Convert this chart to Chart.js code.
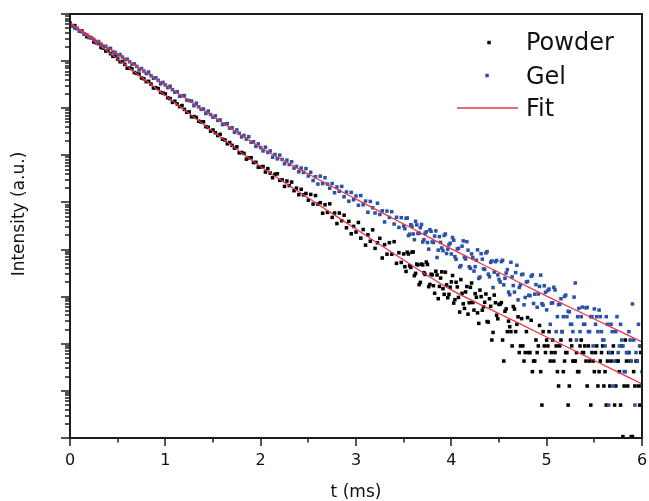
<!DOCTYPE html>
<html><head><meta charset="utf-8">
<script src="https://cdn.jsdelivr.net/npm/chart.js@4/dist/chart.umd.min.js"></script>
<style>html,body{margin:0;padding:0;background:#fff;}#wrap{width:649px;height:501px;}</style>
</head><body><div id="wrap"><canvas id="c" width="649" height="501"></canvas></div>
<script>
// time axis (ms)
const times = [
0,0.025,0.05,0.075,0.1,0.125,0.15,0.175,0.2,0.225,0.25,0.275,0.3,0.325,0.35,0.375,0.4,0.425,0.45,0.475,
0.5,0.525,0.55,0.575,0.6,0.625,0.65,0.675,0.7,0.725,0.75,0.775,0.8,0.825,0.85,0.875,0.9,0.925,0.95,0.975,
1,1.025,1.05,1.075,1.1,1.125,1.15,1.175,1.2,1.225,1.25,1.275,1.3,1.325,1.35,1.375,1.4,1.425,1.45,1.475,
1.5,1.525,1.55,1.575,1.6,1.625,1.65,1.675,1.7,1.725,1.75,1.775,1.8,1.825,1.85,1.875,1.9,1.925,1.95,1.975,
2,2.025,2.05,2.075,2.1,2.125,2.15,2.175,2.2,2.225,2.25,2.275,2.3,2.325,2.35,2.375,2.4,2.425,2.45,2.475,
2.5,2.525,2.55,2.575,2.6,2.625,2.65,2.675,2.7,2.725,2.75,2.775,2.8,2.825,2.85,2.875,2.9,2.925,2.95,2.975,
3,3.025,3.05,3.075,3.1,3.125,3.15,3.175,3.2,3.225,3.25,3.275,3.3,3.325,3.35,3.375,3.4,3.425,3.45,3.475,
3.5,3.525,3.55,3.575,3.6,3.625,3.65,3.675,3.7,3.725,3.75,3.775,3.8,3.825,3.85,3.875,3.9,3.925,3.95,3.975,
4,4.025,4.05,4.075,4.1,4.125,4.15,4.175,4.2,4.225,4.25,4.275,4.3,4.325,4.35,4.375,4.4,4.425,4.45,4.475,
4.5,4.525,4.55,4.575,4.6,4.625,4.65,4.675,4.7,4.725,4.75,4.775,4.8,4.825,4.85,4.875,4.9,4.925,4.95,4.975,
5,5.025,5.05,5.075,5.1,5.125,5.15,5.175,5.2,5.225,5.25,5.275,5.3,5.325,5.35,5.375,5.4,5.425,5.45,5.475,
5.5,5.525,5.55,5.575,5.6,5.625,5.65,5.675,5.7,5.725,5.75,5.775,5.8,5.825,5.85,5.875,5.9,5.925,5.95,5.975,
6];

// Powder intensity (a.u.)
const powder = [
6.44e8,5.62e8,5.67e8,4.95e8,4.31e8,4.36e8,3.80e8,3.31e8,3.19e8,3.07e8,
2.54e8,2.45e8,2.35e8,1.95e8,1.88e8,1.64e8,1.66e8,1.44e8,1.26e8,1.27e8,
1.11e8,9.7e7,9.78e7,8.53e7,7.08e7,7.15e7,6.88e7,5.71e7,5.49e7,5.28e7,
4.39e7,4.22e7,3.67e7,3.72e7,3.24e7,2.69e7,2.72e7,2.61e7,2.17e7,2.09e7,
2.01e7,1.67e7,1.60e7,1.33e7,1.41e7,1.23e7,1.08e7,1.14e7,9.44e6,8.23e6,
8.32e6,6.58e6,6.64e6,6.38e6,5.30e6,5.10e6,5.15e6,4.07e6,3.92e6,3.26e6,
3.45e6,3.01e6,2.63e6,2.79e6,2.20e6,2.12e6,1.76e6,1.87e6,1.63e6,1.42e6,
1.51e6,1.13e6,1.15e6,1.10e6,8.30e5,8.80e5,8.89e5,7.03e5,7.10e5,5.61e5,
5.67e5,5.80e5,4.42e5,5.23e5,4.19e5,3.35e5,3.97e5,4.07e5,2.94e5,3.01e5,
2.19e5,2.85e5,2.28e5,2.71e5,1.78e5,2.01e5,1.46e5,1.90e5,1.45e5,1.55e5,
1.12e5,1.48e5,9.24e4,1.40e5,9.21e4,9.88e4,5.90e4,8.95e4,6.16e4,9.34e4,
4.81e4,5.97e4,3.56e4,5.96e4,4.10e4,5.36e4,2.90e4,3.97e4,2.16e4,3.10e4,
2.36e4,3.76e4,1.75e4,2.66e4,1.24e4,2.06e4,1.50e4,2.62e4,1.06e4,1.39e4,
1.73e4,6.62e3,1.27e4,7.99e3,1.40e4,7.97e3,1.47e4,5.10e3,8.55e3,5.33e3,
8.07e3,3.43e3,8.06e3,4.17e3,8.89e3,3.12e3,4.73e3,2.01e3,4.72e3,2.97e3,
4.81e3,1.82e3,2.90e3,1.18e3,2.89e3,1.65e3,3.37e3,1.12e3,1.78e3,1.12e3,
2060,730,2020,962,2300,705,1260,426,1580,752,
1160,453,1380,516,759,296,905,120,1080,403,
684,749,43,549,302,181,618,181,373,90,
90,65,360,65,25.6,43,65,245,5.0,90,
120,181,65,43,90,12.7,120,25.6,65,5.0,
120,43,43,25.6,90,65,90,12.7,43,65,
25.6,90,25.6,65,12.7,5.0,65,43,90,12.7,
43,5.0,1.07,120,12.7,43,1.07,12.7,43,5.0,12.7];

// Gel intensity (a.u.)
const gel = [
6.44e8,5.68e8,5.02e8,4.88e8,4.32e8,4.20e8,3.71e8,3.61e8,3.19e8,3.10e8,
2.88e8,2.54e8,2.60e8,2.29e8,2.02e8,2.07e8,1.83e8,1.87e8,1.57e8,1.53e8,
1.35e8,1.38e8,1.22e8,1.07e8,1.10e8,9.69e7,8.56e7,8.75e7,7.74e7,6.50e7,
6.97e7,6.15e7,5.44e7,5.85e7,4.90e7,4.33e7,4.43e7,3.91e7,3.29e7,3.53e7,
3.11e7,2.74e7,2.94e7,2.48e7,2.18e7,2.24e7,1.79e7,1.83e7,1.86e7,1.49e7,
1.45e7,1.42e7,1.13e7,1.28e7,1.07e7,9.45e6,9.66e6,7.73e6,8.71e6,7.32e6,
6.42e6,6.88e6,5.51e6,5.65e6,4.50e6,4.62e6,4.71e6,3.78e6,3.84e6,3.08e6,
3.46e6,2.93e6,2.46e6,2.64e6,2.21e6,2.49e6,1.89e6,1.94e6,1.55e6,1.75e6,
1.46e6,1.24e6,1.49e6,1.15e6,1.24e6,9.13e5,1.04e6,8.43e5,1.01e6,8.16e5,
6.61e5,7.91e5,6.40e5,7.30e5,5.36e5,5.82e5,4.48e5,5.37e5,4.34e5,5.22e5,
3.64e5,4.37e5,2.92e5,3.51e5,2.46e5,3.61e5,2.52e5,3.35e5,2.46e5,2.00e5,
2.52e5,1.61e5,2.13e5,1.73e5,2.19e5,1.32e5,1.67e5,1.06e5,1.63e5,1.14e5,
1.37e5,8.70e4,1.40e5,8.92e4,1.07e5,6.19e4,1.05e5,7.72e4,5.96e4,9.63e4,
5.55e4,6.66e4,3.85e4,6.54e4,4.80e4,6.35e4,3.48e4,4.84e4,2.95e4,4.75e4,
3.16e4,4.61e4,1.98e4,3.36e4,2.14e4,3.98e4,2.19e4,2.91e4,1.45e4,2.22e4,
1.41e4,2.63e4,1.45e4,1.93e4,6.78e3,1.88e4,1.08e4,2.00e4,8.24e3,1.26e4,
8.06e3,1.58e4,6.21e3,1.06e4,4.55e3,1.53e4,6.31e3,9.71e3,3.99e3,6.77e3,
4.33e3,9.86e3,2.61e3,6.25e3,3.79e3,9.05e3,2.65e3,5.74e3,3.32e3,5.86e3,
2320,5540,1780,3180,1250,5370,1720,3240,855,1770,
3000,962,2100,1050,2890,1130,595,1650,711,1700,
524,1450,726,1580,181,677,903,376,1080,490,
259,181,1950,376,181,600,259,590,181,376,
549,376,519,181,120,376,5.0,259,12.7,181,
65,259,90,25.6,65,120,700,5.0,43,90,25.6];

// additional late-time samples (ms) and their intensities
const timesExtra = [
3.5125,3.5375,3.5625,3.5875,3.6125,3.6375,3.6625,3.6875,3.7125,3.7375,3.7625,3.7875,3.8125,3.8375,3.8625,3.8875,3.9125,3.9375,3.9625,3.9875,
4.0125,4.0375,4.0625,4.0875,4.1125,4.1375,4.1625,4.1875,4.2125,4.2375,4.2625,4.2875,4.3125,4.3375,4.3625,4.3875,4.4125,4.4375,4.4625,4.4875,
4.5125,4.5375,4.5625,4.5875,4.6125,4.6375,4.6625,4.6875,4.7125,4.7375,4.7625,4.7875,4.8125,4.8375,4.8625,4.8875,4.9125,4.9375,4.9625,4.9875,
5.0125,5.0375,5.0625,5.0875,5.1125,5.1375,5.1625,5.1875,5.2125,5.2375,5.2625,5.2875,5.3125,5.3375,5.3625,5.3875,5.4125,5.4375,5.4625,5.4875,
5.5125,5.5375,5.5625,5.5875,5.6125,5.6375,5.6625,5.6875,5.7125,5.7375,5.7625,5.7875,5.8125,5.8375,5.8625,5.8875,5.9125,5.9375,5.9625,5.9875];
const powderExtra = [
4330,8800,4540,8810,2790,4920,1800,4910,3230,5420,1630,3000,1710,3470,907,2480,1480,3310,950,1590,
2810,862,1610,472,1180,564,1640,743,1950,519,974,271,1000,609,1140,288,624,174,744,339,
698,120,489,181,230,90,546,259,65,342,43,181,65,315,43,120,90,25.6,181,65,
90,43,120,65,25.6,90,181,43,65,12.7,90,43,65,25.6,120,65,43,90,5.0,43,
65,12.7,43,90,25.6,43,12.7,65,5.0,43,25.6,90,12.7,43,65,1.07,25.6,43,12.7,65];
const gelExtra = [
2.77e4,4.69e4,2.12e4,3.10e4,1.62e4,3.34e4,2.23e4,3.41e4,1.62e4,2.38e4,1.02e4,2.44e4,1.41e4,2.49e4,9.73e3,1.42e4,9.47e3,2.14e4,1.02e4,1.36e4,
18000,7050,10300,4260,11800,6810,14700,4310,8090,3490,5920,2440,8180,3900,8470,3000,5350,1560,5520,2900,
2040,5920,2450,3760,1100,2630,1250,4640,1570,2930,671,2050,1070,2700,717,1800,1140,2870,660,1240,
1350,259,740,1390,376,691,181,1010,376,477,259,979,120,563,376,259,580,181,376,90,
259,181,376,120,90,259,65,181,43,376,90,120,25.6,65,181,43,120,65,259,90];

// fit curves
const fitTimes = [0,0.5,1,1.5,2,2.5,3,3.5,4,4.5,5,5.5,6];
const powderFit = [6.44e8,1.11e8,1.86e7,3.21e6,5.79e5,1.24e5,2.73e4,6.0e3,1.39e3,440,139,44.2,14.0];
const gelFit = [6.44e8,1.42e8,3.11e7,6.67e6,1.47e6,4.02e5,1.18e5,3.49e4,1.03e4,3.26e3,1.03e3,336,109];

// axes
const xTicks = [0,1,2,3,4,5,6];
const xMinorTicks = [0.5,1.5,2.5,3.5,4.5,5.5];
const yDecades = [1,1e1,1e2,1e3,1e4,1e5,1e6,1e7,1e8,1e9];
const yMinorFactors = [2,3,4,5,6,7,8,9];
const legendLabels = ['Powder','Gel','Fit'];
const xTitle = 't (ms)';
const yTitle = 'Intensity (a.u.)';

const FONT = '"DejaVu Sans", Verdana, sans-serif';
const AXIS = '#1c1c1c';
const BLUE = '#2a52a8';
const RED = '#e8344a';

function pts(xs, ys){ return xs.map((x,i)=>({x:x, y:ys[i]})); }

const framePlugin = {
  id:'frame',
  afterDraw(chart){
    const ctx = chart.ctx, a = chart.chartArea;
    const xs = chart.scales.x, ys = chart.scales.y;
    ctx.save();
    ctx.strokeStyle = AXIS;
    ctx.lineWidth = 1.5;
    ctx.beginPath();
    xTicks.forEach(v=>{ const p = Math.round(xs.getPixelForValue(v)); ctx.moveTo(p, a.bottom); ctx.lineTo(p, a.bottom+8); });
    xMinorTicks.forEach(v=>{ const p = Math.round(xs.getPixelForValue(v)); ctx.moveTo(p, a.bottom); ctx.lineTo(p, a.bottom+4.5); });
    yDecades.forEach((d,k)=>{
      const p = Math.round(ys.getPixelForValue(d));
      ctx.moveTo(a.left-9, p); ctx.lineTo(a.left, p);
      if (k < yDecades.length-1) yMinorFactors.forEach(m=>{
        const q = Math.round(ys.getPixelForValue(m*d));
        ctx.moveTo(a.left-5, q); ctx.lineTo(a.left, q);
      });
    });
    ctx.stroke();
    ctx.lineWidth = 2;
    ctx.strokeRect(a.left, a.top, a.right-a.left, a.bottom-a.top);
    // y title
    ctx.fillStyle = '#111';
    ctx.font = '17px ' + FONT;
    ctx.textAlign = 'center'; ctx.textBaseline = 'middle';
    ctx.translate(20, 214); ctx.rotate(-Math.PI/2);
    ctx.fillText(yTitle, 0, 0);
    ctx.setTransform(1,0,0,1,0,0);
    // legend
    ctx.font = '24px ' + FONT;
    ctx.textAlign = 'left'; ctx.textBaseline = 'alphabetic';
    ctx.fillStyle = '#111';
    ctx.fillText(legendLabels[0], 526, 49.5);
    ctx.fillText(legendLabels[1], 526, 83.5);
    ctx.fillText(legendLabels[2], 526, 116);
    ctx.fillStyle = '#000'; ctx.fillRect(487.3, 40.8, 3.5, 3.5);
    ctx.fillStyle = BLUE; ctx.fillRect(485.3, 73.8, 3.5, 3.5);
    ctx.strokeStyle = RED; ctx.lineWidth = 1.3;
    ctx.beginPath(); ctx.moveTo(457, 108); ctx.lineTo(518, 108); ctx.stroke();
    ctx.restore();
  }
};

new Chart(document.getElementById('c').getContext('2d'), {
  type:'scatter',
  data:{ datasets:[
    {label:legendLabels[2], type:'line', data:pts(fitTimes,powderFit), borderColor:RED, borderWidth:1.3, pointRadius:0, cubicInterpolationMode:'monotone', fill:false},
    {label:legendLabels[2], type:'line', data:pts(fitTimes,gelFit), borderColor:RED, borderWidth:1.3, pointRadius:0, cubicInterpolationMode:'monotone', fill:false},
    {label:legendLabels[1], data:pts(times.concat(timesExtra), gel.concat(gelExtra)), pointStyle:'rect', pointRadius:2.5, pointBackgroundColor:BLUE, backgroundColor:BLUE, pointBorderWidth:0, borderWidth:0},
    {label:legendLabels[0], data:pts(times.concat(timesExtra), powder.concat(powderExtra)), pointStyle:'rect', pointRadius:2.5, pointBackgroundColor:'#000', backgroundColor:'#000', pointBorderWidth:0, borderWidth:0}
  ]},
  options:{
    responsive:false, animation:false, devicePixelRatio:1,
    layout:{padding:{top:14,right:7,left:0,bottom:0}},
    plugins:{legend:{display:false}, tooltip:{enabled:false}},
    scales:{
      x:{type:'linear', min:0, max:6,
         afterBuildTicks:s=>{ s.ticks = xTicks.map(v=>({value:v})); },
         ticks:{font:{family:FONT,size:16}, color:'#111', padding:13, maxRotation:0, autoSkip:false},
         grid:{display:false, drawTicks:false}, border:{display:false},
         title:{display:true, text:xTitle, font:{family:FONT,size:17,lineHeight:1.0}, color:'#111', padding:{top:0,bottom:0}},
         afterFit:s=>{ s.height = 63; s.paddingLeft = 0; s.paddingRight = 0; }},
      y:{type:'logarithmic', min:1, max:1e9,
         ticks:{display:false}, grid:{display:false, drawTicks:false}, border:{display:false},
         afterFit:s=>{ s.width = 70; s.paddingTop = 0; s.paddingBottom = 0; }}
    }
  },
  plugins:[framePlugin]
});
</script></body></html>
